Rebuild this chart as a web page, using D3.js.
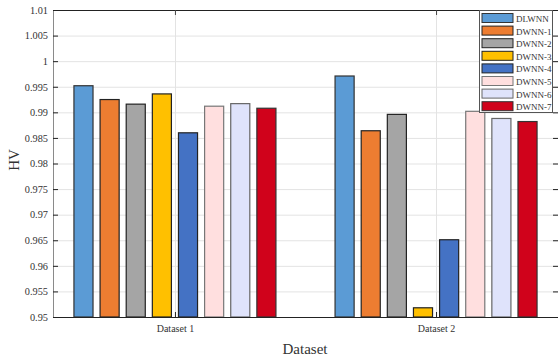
<!DOCTYPE html>
<html>
<head>
<meta charset="utf-8">
<script src="https://cdn.jsdelivr.net/npm/d3@7"></script>
<style>
  body { margin: 0; background: #fff; }
  svg { display: block; font-family: "Liberation Serif", "Times New Roman", serif; }
</style>
</head>
<body>
<div id="chart"></div>
<script>
// categories and series
var datasets = ["Dataset 1", "Dataset 2"];
var models = ["DLWNN", "DWNN-1", "DWNN-2", "DWNN-3", "DWNN-4", "DWNN-5", "DWNN-6", "DWNN-7"];
var hvDataset1 = [0.9952, 0.9925, 0.9916, 0.9936, 0.9860, 0.9912, 0.9917, 0.9908];
var hvDataset2 = [0.9971, 0.9864, 0.9896, 0.9518, 0.9651, 0.9902, 0.9888, 0.9882];
var yTicks = [0.95, 0.955, 0.96, 0.965, 0.97, 0.975, 0.98, 0.985, 0.99, 0.995, 1, 1.005, 1.01];
var colors = ["#5b9bd5", "#ed7d31", "#a5a5a5", "#ffc000", "#4472c4", "#ffdfdf", "#dfe3fb", "#d0021b"];
var edges = ["#333", "#222", "#222", "#222", "#222", "#777", "#666", "#333"];

var larg = 558, haut = 360;
var m = {top: 10, right: 0, bottom: 43, left: 53};
var w = larg - m.left - m.right, h = haut - m.top - m.bottom;

var rows = datasets.map(function(d, i) {
    return {name: d, vals: i == 0 ? hvDataset1 : hvDataset2};
});

var svg = d3.select("#chart").append("svg")
    .attr("width", larg).attr("height", haut);
var g = svg.append("g").attr("transform", "translate(" + m.left + "," + m.top + ")");

// x : category positions, inner : bars inside a group
var x = d3.scalePoint().domain(datasets).range([0, w]).padding(0.467);
var xs = d3.scaleBand().domain(models).range([-101, 101]).paddingInner(0.27);
var y = d3.scaleLinear().domain([0.95, 1.01]).range([h, 0]);

// grid
g.selectAll(".gy").data(yTicks).enter().append("line")
    .attr("x1", 0).attr("x2", w)
    .attr("y1", function(d) { return y(d) + 0.5; })
    .attr("y2", function(d) { return y(d) + 0.5; })
    .attr("stroke", "#e3e3e3").attr("stroke-width", 1);
g.selectAll(".gx").data(datasets).enter().append("line")
    .attr("x1", function(d) { return Math.round(x(d)) + 0.5; })
    .attr("x2", function(d) { return Math.round(x(d)) + 0.5; })
    .attr("y1", 0).attr("y2", h)
    .attr("stroke", "#e3e3e3").attr("stroke-width", 1);

// bars
var grp = g.selectAll(".grp").data(rows).enter().append("g")
    .attr("transform", function(d) { return "translate(" + x(d.name) + ",0)"; });
grp.selectAll("rect")
    .data(function(d) { return d.vals.map(function(v, i) { return {k: models[i], v: v, i: i}; }); })
    .enter().append("rect")
    .attr("x", function(d) { return xs(d.k); })
    .attr("width", xs.bandwidth())
    .attr("y", function(d) { return y(d.v); })
    .attr("height", function(d) { return h - y(d.v); })
    .attr("fill", function(d) { return colors[d.i]; })
    .attr("stroke", function(d) { return edges[d.i]; })
    .attr("stroke-width", 1.2);

// axes
var yAxis = g.append("g").call(d3.axisLeft(y).tickValues(yTicks).tickSizeInner(-5).tickSizeOuter(0)
    .tickFormat(function(d) { return d3.format("")(+d.toFixed(3)); }));
yAxis.select(".domain").attr("stroke", "#8a8a8a");
yAxis.selectAll(".tick line").attr("stroke", "#222");
yAxis.selectAll("text").attr("x", -5).attr("fill", "#333").attr("font-size", 10.3).attr("font-family", "Liberation Serif");

var yRight = g.append("g").attr("transform", "translate(" + w + ",0)")
    .call(d3.axisRight(y).tickValues(yTicks).tickSizeInner(-5).tickSizeOuter(0).tickFormat(""));
yRight.selectAll(".tick line").attr("stroke", "#222");

var xAxis = g.append("g").attr("transform", "translate(0," + h + ")")
    .call(d3.axisBottom(x).tickSizeInner(-5).tickSizeOuter(0));
xAxis.select(".domain").attr("stroke", "#222");
xAxis.selectAll(".tick line").attr("stroke", "#222");
xAxis.selectAll("text").attr("y", 8).attr("fill", "#333").attr("font-size", 10).attr("font-family", "Liberation Serif");

var xTop = g.append("g").call(d3.axisTop(x).tickSizeInner(-5).tickSizeOuter(0).tickFormat(""));
xTop.select(".domain").attr("stroke", "#222");
xTop.selectAll(".tick line").attr("stroke", "#444");

// labels
svg.append("text").attr("x", 305).attr("y", 354)
    .attr("text-anchor", "middle").attr("font-size", 15).attr("fill", "#333").text("Dataset");
svg.append("text").attr("transform", "translate(19,160) rotate(-90)")
    .attr("text-anchor", "middle").attr("font-size", 15).attr("fill", "#333").text("HV");

// legend
var lg = svg.append("g").attr("transform", "translate(479,10)");
lg.append("rect").attr("x", 0.5).attr("y", 0.5).attr("width", 73).attr("height", 102)
    .attr("fill", "#fff").attr("stroke", "#555").attr("stroke-width", 1);
var item = lg.selectAll(".it").data(models).enter().append("g")
    .attr("transform", function(d, i) { return "translate(3," + (3.5 + i * 12.6) + ")"; });
item.append("rect").attr("width", 31).attr("height", 9)
    .attr("fill", function(d, i) { return colors[i]; })
    .attr("stroke", function(d, i) { return edges[i]; }).attr("stroke-width", 1);
item.append("text").attr("x", 34).attr("y", 8.5).attr("font-size", 9).attr("fill", "#333")
    .text(function(d) { return d; });
</script>
</body>
</html>
